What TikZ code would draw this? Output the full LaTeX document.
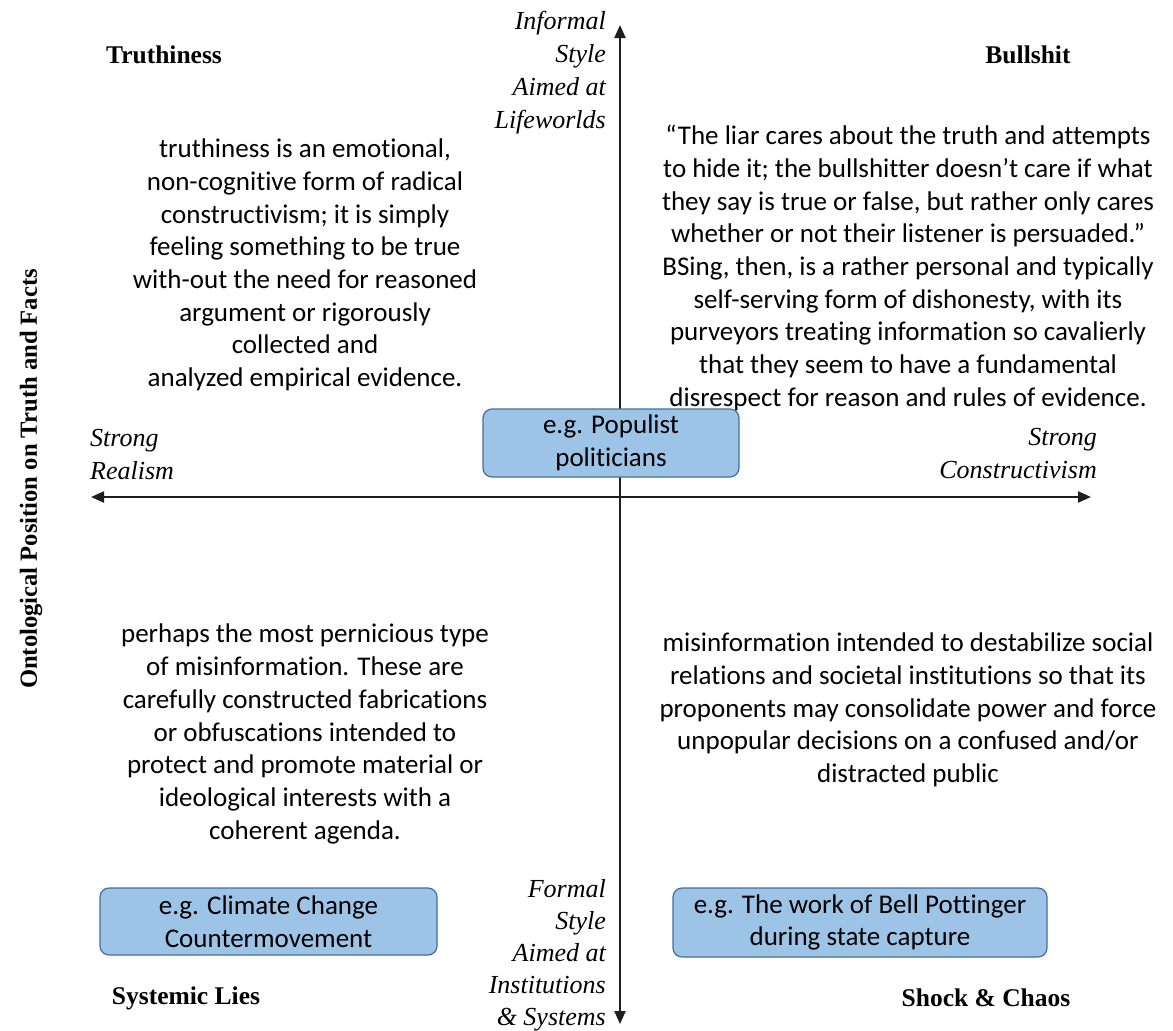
\documentclass[tikz,border=0pt]{standalone}
\usepackage{fontspec}
\setmainfont{Liberation Serif}
\newfontfamily\bodyfont[Ligatures={NoCommon}]{Carlito}
\usetikzlibrary{arrows.meta}
\definecolor{boxfill}{RGB}{157,195,230}
\definecolor{boxline}{RGB}{65,113,156}
\definecolor{axisgray}{RGB}{30,30,30}
\tikzset{
  body/.style={font={\bodyfont\fontsize{27}{32.7}\selectfont}, align=center, inner sep=0pt},
  corner/.style={font={\fontsize{25.5}{30}\selectfont\bfseries}, inner sep=0pt},
  axislabel/.style={font={\fontsize{26}{33}\selectfont\itshape}, inner sep=0pt},
  example/.style={body, draw=boxline, fill=boxfill, line width=1.2pt, rounded corners=9pt},
  axisline/.style={line width=2.2pt, draw=axisgray,
    {Triangle[length=13pt,width=11pt]}-{Triangle[length=13pt,width=11pt]}}
}
\begin{document}
\begin{tikzpicture}[x=1pt,y=-1pt]
  \fill[white] (0,0) rectangle (1173,1031);
  \useasboundingbox (0,0) rectangle (1173,1031);

  % axis end points
  \coordinate (vtop) at (620,25);
  \coordinate (vbot) at (620,1024);
  \coordinate (hleft) at (91,497);
  \coordinate (hright) at (1091,497);
  \draw[axisline] (vbot) -- (vtop);
  \draw[axisline] (hleft) -- (hright);

  % quadrant titles
  \node[corner] (truthiness) at (164,55) {Truthiness};
  \node[corner] (bullshit) at (1028,55) {Bullshit};
  \node[corner] (systemic) at (186,998) {Systemic Lies};
  \node[corner] (shock) at (986,998) {Shock \& Chaos};

  % vertical axis title
  \node[corner, font={\fontsize{24.6}{30}\selectfont\bfseries}, rotate=90] (ontology) at (31,479)
    {Ontological Position on Truth and Facts};

  % axis end labels
  \node[axislabel, anchor=east, align=right] (informal) at (606,73)
    {Informal\\Style\\Aimed at\\Lifeworlds};
  \node[axislabel, anchor=east, align=right, font={\fontsize{26}{32}\selectfont\itshape}] (formal) at (606,955)
    {Formal\\Style\\Aimed at\\Institutions\\\& Systems};
  \node[axislabel, anchor=west, align=left] (realism) at (90,455)
    {Strong\\Realism};
  \node[axislabel, anchor=east, align=right] (constructivism) at (1097,454)
    {Strong\\Constructivism};

  % quadrant descriptions
  \node[body] (tl) at (305,265)
    {truthiness is an emotional,\\non-cognitive form of radical\\constructivism; it is simply\\feeling something to be true\\with-out the need for reasoned\\argument or rigorously\\collected and\\analyzed empirical evidence.};
  \node[body] (tr) at (908,268)
    {“The liar cares about the truth and attempts\\to hide it; the bullshitter doesn’t care if what\\they say is true or false, but rather only cares\\whether or not their listener is persuaded.”\\BSing, then, is a rather personal and typically\\self-serving form of dishonesty, with its\\purveyors treating information so cavalierly\\that they seem to have a fundamental\\disrespect for reason and rules of evidence.};
  \node[body] (bl) at (305,734)
    {perhaps the most pernicious type\\of misinformation. These are\\carefully constructed fabrications\\or obfuscations intended to\\protect and promote material or\\ideological interests with a\\coherent agenda.};
  \node[body] (br) at (908,710)
    {misinformation intended to destabilize social\\relations and societal institutions so that its\\proponents may consolidate power and force\\unpopular decisions on a confused and/or\\distracted public};

  % example boxes
  \node[example, minimum width=256pt, minimum height=68pt] (populist) at (611,443)
    {e.g. Populist\\politicians};
  \node[example, minimum width=337pt, minimum height=67pt] (climate) at (268.5,921.5)
    {e.g. Climate Change\\Countermovement};
  \node[example, minimum width=374pt, minimum height=69pt] (bell) at (860,922.5)
    {e.g. The work of Bell Pottinger\\during state capture};
\end{tikzpicture}
\end{document}
